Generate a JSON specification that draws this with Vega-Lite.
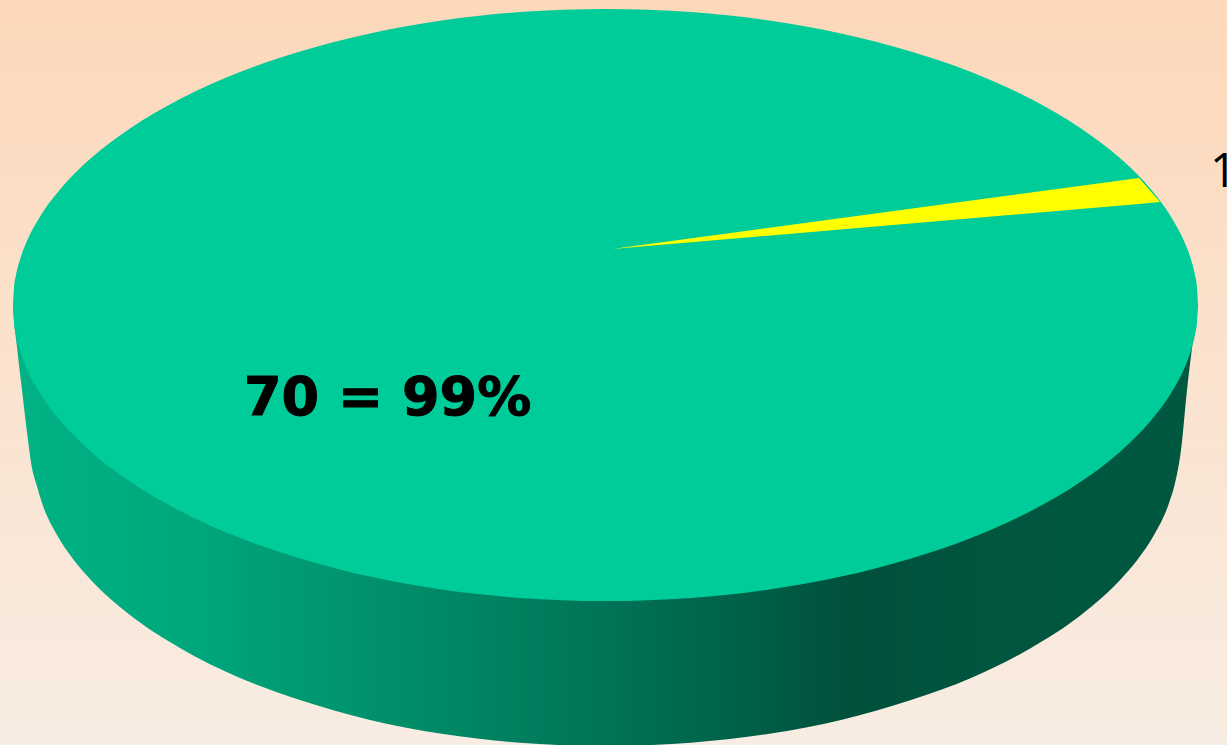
{
"$schema":"https://vega.github.io/schema/vega-lite/v6.json",
"width":1227,"height":745,"padding":0,"autosize":{"type":"none"},
"background":"#F8EDE3",
"config":{"view":{"stroke":null}},
"layer":[
{"data":{"values":[{"panel":"background"}]},
 "mark":{"type":"rect","color":{"gradient":"linear","x1":0,"y1":0,"x2":0,"y2":1,"stops":[{"offset":0,"color":"#FDD8BA"},{"offset":1,"color":"#F8EDE3"}]}},
 "encoding":{}},
{"data":{"values":[
{"x":13,"upper":305,"lower":305},{"x":13.5,"upper":305,"lower":313},{"x":17,"upper":305,"lower":347},{"x":22,"upper":305,"lower":390},{"x":27,"upper":305,"lower":432},{"x":32,"upper":305,"lower":468},{"x":36,"upper":305,"lower":483},{"x":42,"upper":305,"lower":503},{"x":57,"upper":305,"lower":535},{"x":73,"upper":305,"lower":559},{"x":90,"upper":305,"lower":579},{"x":130,"upper":305,"lower":615},{"x":180,"upper":305,"lower":648},{"x":240,"upper":305,"lower":678},{"x":300,"upper":305,"lower":700},{"x":370,"upper":305,"lower":720},{"x":440,"upper":305,"lower":733.5},{"x":520,"upper":305,"lower":742.7},{"x":605,"upper":305,"lower":746},{"x":691,"upper":305,"lower":742.7},{"x":771,"upper":305,"lower":733.5},{"x":841,"upper":305,"lower":720},{"x":911,"upper":305,"lower":700},{"x":971,"upper":305,"lower":678},{"x":1031,"upper":305,"lower":648},{"x":1081,"upper":305,"lower":615},{"x":1121,"upper":305,"lower":579},{"x":1138,"upper":305,"lower":559},{"x":1154,"upper":305,"lower":535},{"x":1169,"upper":305,"lower":503},{"x":1175,"upper":305,"lower":483},{"x":1181,"upper":305,"lower":450},{"x":1187,"upper":305,"lower":390},{"x":1193,"upper":305,"lower":340},{"x":1198,"upper":305,"lower":305}
]},
 "mark":{"type":"area","interpolate":"monotone","clip":true,"color":{"gradient":"linear","x1":0,"y1":0,"x2":1,"y2":0,"stops":[{"offset":0,"color":"#00B385"},{"offset":0.158,"color":"#00A67C"},{"offset":0.242,"color":"#009A72"},{"offset":0.495,"color":"#007558"},{"offset":0.706,"color":"#00503C"},{"offset":0.833,"color":"#00563F"},{"offset":1,"color":"#005840"}]}},
 "encoding":{"x":{"field":"x","type":"quantitative","scale":{"domain":[0,1227],"nice":false,"zero":false},"axis":null},
 "y":{"field":"upper","type":"quantitative","scale":{"domain":[745,0],"nice":false,"zero":false},"axis":null},
 "y2":{"field":"lower"}}},
{"data":{"values":[
{"x":13,"upper":305,"lower":305},{"x":14,"upper":287.8,"lower":322.2},{"x":16,"upper":275.3,"lower":334.7},{"x":20,"upper":259.6,"lower":350.4},{"x":27,"upper":241,"lower":369},{"x":40,"upper":216.7,"lower":393.3},{"x":60,"upper":189.5,"lower":420.5},{"x":90,"upper":159.1,"lower":450.9},{"x":130,"upper":128.4,"lower":481.6},{"x":180,"upper":99,"lower":511},{"x":240,"upper":72,"lower":538},{"x":300,"upper":51.6,"lower":558.4},{"x":370,"upper":33.4,"lower":576.6},{"x":440,"upper":20.8,"lower":589.2},{"x":520,"upper":12.1,"lower":597.9},{"x":605.5,"upper":9,"lower":601},{"x":691,"upper":12.1,"lower":597.9},{"x":771,"upper":20.8,"lower":589.2},{"x":841,"upper":33.4,"lower":576.6},{"x":911,"upper":51.6,"lower":558.4},{"x":971,"upper":72,"lower":538},{"x":1031,"upper":99,"lower":511},{"x":1081,"upper":128.4,"lower":481.6},{"x":1121,"upper":159.1,"lower":450.9},{"x":1151,"upper":189.5,"lower":420.5},{"x":1171,"upper":216.7,"lower":393.3},{"x":1184,"upper":241,"lower":369},{"x":1191,"upper":259.6,"lower":350.4},{"x":1195,"upper":275.3,"lower":334.7},{"x":1197,"upper":287.8,"lower":322.2},{"x":1198,"upper":305,"lower":305}
]},
 "mark":{"type":"area","interpolate":"monotone","color":"#00CC99"},
 "encoding":{"x":{"field":"x","type":"quantitative","scale":{"domain":[0,1227],"nice":false,"zero":false},"axis":null},
 "y":{"field":"upper","type":"quantitative","scale":{"domain":[745,0],"nice":false,"zero":false},"axis":null},
 "y2":{"field":"lower"}}},
{"data":{"values":[{"x":612,"upper":249,"lower":249},{"x":1139,"upper":178,"lower":204},{"x":1160,"upper":202,"lower":202}]},
 "mark":{"type":"area","interpolate":"linear","color":"#FFFF00"},
 "encoding":{"x":{"field":"x","type":"quantitative","scale":{"domain":[0,1227],"nice":false,"zero":false},"axis":null},
 "y":{"field":"upper","type":"quantitative","scale":{"domain":[745,0],"nice":false,"zero":false},"axis":null},
 "y2":{"field":"lower"}}},
{"data":{"values":[{"x":244,"y":415,"label":"70 = 99%"}]},
 "mark":{"type":"text","align":"left","baseline":"alphabetic","font":"DejaVu Sans","fontWeight":"bold","fontSize":54,"color":"#000000","stroke":"#000000","strokeWidth":1},
 "encoding":{"x":{"field":"x","type":"quantitative","scale":{"domain":[0,1227],"nice":false,"zero":false},"axis":null},
 "y":{"field":"y","type":"quantitative","scale":{"domain":[745,0],"nice":false,"zero":false},"axis":null},
 "text":{"field":"label"}}},
{"data":{"values":[{"x":1210,"y":187,"label":"1 = 1%"}]},
 "mark":{"type":"text","align":"left","baseline":"alphabetic","font":"Open Sans","fontSize":47,"color":"#000000","clip":true},
 "encoding":{"x":{"field":"x","type":"quantitative","scale":{"domain":[0,1227],"nice":false,"zero":false},"axis":null},
 "y":{"field":"y","type":"quantitative","scale":{"domain":[745,0],"nice":false,"zero":false},"axis":null},
 "text":{"field":"label"}}}
]
}
